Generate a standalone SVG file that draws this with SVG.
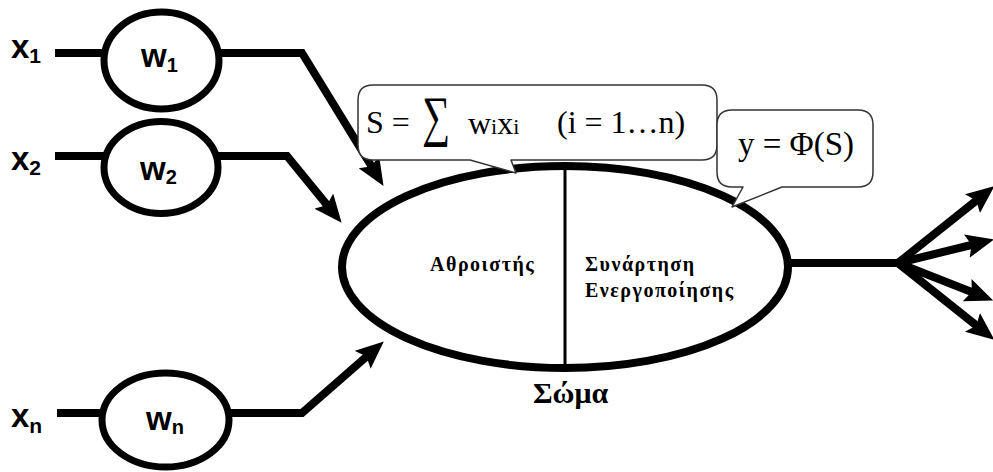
<svg xmlns="http://www.w3.org/2000/svg" width="993" height="472" viewBox="0 0 993 472">
<defs>
<style>
.node{fill:#fff;stroke:#000;stroke-width:7}
.wire{fill:none;stroke:#000;stroke-width:8;stroke-linejoin:miter;stroke-miterlimit:10}
.arr{marker-end:url(#ah)}
.sans{font-family:"Liberation Sans",Arial,sans-serif;font-weight:bold;fill:#000}
.serif{font-family:"Liberation Serif","Times New Roman",serif;fill:#000}
.greek{font-family:"Liberation Serif","DejaVu Serif",serif;font-weight:bold;fill:#000}
.bubble{fill:#fff;stroke:#333;stroke-width:1.5;stroke-linejoin:round}
</style>
<marker id="ah" markerUnits="userSpaceOnUse" viewBox="0 0 28 24" refX="9" refY="12" markerWidth="28" markerHeight="24" orient="auto">
<path d="M0,0 L28,12 L0,24 L5,12 Z" fill="#000"/>
</marker>
</defs>
<rect width="993" height="472" fill="#fff"/>

<g id="connectors">
<line class="wire" x1="55" y1="53" x2="104" y2="53"/>
<line class="wire" x1="55" y1="156" x2="104" y2="156"/>
<line class="wire" x1="57" y1="413" x2="102" y2="413"/>
<polyline class="wire arr" points="219,53 302,53 373.6,169.7"/>
<polyline class="wire arr" points="218,156 287,156 329.6,208.1"/>
<polyline class="wire arr" points="229,413 302,413 369.5,353.9"/>
<line class="wire" x1="788" y1="263" x2="900" y2="263"/>
<line class="wire arr" x1="898" y1="263" x2="979.5" y2="198"/>
<line class="wire arr" x1="898" y1="263" x2="975.5" y2="244"/>
<line class="wire arr" x1="898" y1="263" x2="975.5" y2="293.5"/>
<line class="wire arr" x1="898" y1="263" x2="979.5" y2="328"/>
</g>

<g id="x1"><text class="sans" x="11" y="58" font-size="33">x<tspan font-size="21" dy="5">1</tspan></text></g>
<g id="x2"><text class="sans" x="11" y="170" font-size="33">x<tspan font-size="21" dy="5">2</tspan></text></g>
<g id="xn"><text class="sans" x="11" y="427" font-size="33">x<tspan font-size="21" dy="6">n</tspan></text></g>

<g id="w1"><ellipse class="node" cx="161.5" cy="60.5" rx="57.5" ry="48.5"/><text class="sans" x="141" y="67" font-size="33">w<tspan font-size="20" dy="5">1</tspan></text></g>
<g id="w2"><ellipse class="node" cx="161" cy="167.5" rx="57" ry="46"/><text class="sans" x="140" y="180" font-size="33">w<tspan font-size="20" dy="4">2</tspan></text></g>
<g id="wn"><ellipse class="node" cx="165.5" cy="420" rx="63.5" ry="47"/><text class="sans" x="146" y="430" font-size="33">w<tspan font-size="20" dy="4">n</tspan></text></g>

<g id="soma">
<ellipse cx="565" cy="267" rx="223" ry="101" fill="#fff" stroke="#000" stroke-width="8"/>
<line x1="565" y1="166" x2="565" y2="364" stroke="#000" stroke-width="3"/>
<text class="greek" x="430" y="271" font-size="20" letter-spacing="1.5">Αθροιστής</text>
<text class="greek" x="585" y="271" font-size="20" letter-spacing="1.5">Συνάρτηση</text>
<text class="greek" x="585" y="297" font-size="20" letter-spacing="1.5">Ενεργοποίησης</text>
<text class="greek" x="533" y="403" font-size="30">Σώμα</text>
</g>

<g id="callout-sum">
<path class="bubble" d="M373,85 L702,85 Q717,85 717,100 L717,145 Q717,160 702,160 L511,160 L516,173 L470,160 L373,160 Q358,160 358,145 L358,100 Q358,85 373,85 Z"/>
<text class="serif" x="366" y="133" font-size="32">S =</text>
<text class="serif" x="422" y="135" font-size="56" textLength="28" lengthAdjust="spacingAndGlyphs">∑</text>
<text class="serif" x="468" y="134" font-size="32">w<tspan font-size="22">i</tspan>x<tspan font-size="22">i</tspan></text>
<text class="serif" x="557" y="133" font-size="32">(i = 1…n)</text>
</g>

<g id="callout-phi">
<path class="bubble" d="M732,110 L858,110 Q873,110 873,125 L873,172 Q873,187 858,187 L782,187 L732,207 L743,187 L732,187 Q717,187 717,172 L717,125 Q717,110 732,110 Z"/>
<text class="serif" x="738" y="155" font-size="33">y = Φ(S)</text>
</g>
</svg>
